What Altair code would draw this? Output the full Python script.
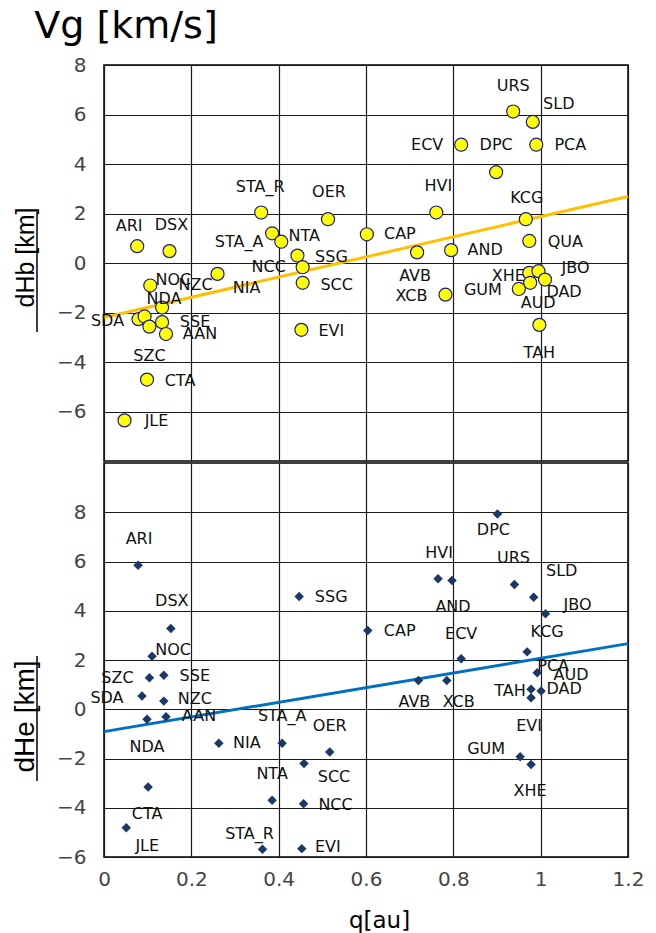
import altair as alt
import pandas as pd

# ---------------- data ----------------
# Upper panel: dHb [km] against perihelion distance q [au]
hb_station = ["URS", "SLD", "ECV", "DPC", "PCA", "HVI", "KCG", "QUA", "STA_R", "OER",
              "CAP", "STA_A", "NTA", "ARI", "DSX", "SSG", "AND", "AVB", "NCC", "NIA",
              "SCC", "NOC", "XHE", "JBO", "AUD", "DAD", "GUM", "XCB", "NDA", "SDA",
              "NZC", "SZC", "SSE", "AAN", "EVI", "TAH", "CTA", "JLE"]
hb_q = [0.937, 0.982, 0.818, 0.898, 0.990, 0.761, 0.966, 0.974, 0.360, 0.513,
        0.602, 0.385, 0.406, 0.076, 0.150, 0.443, 0.795, 0.717, 0.455, 0.260,
        0.455, 0.106, 0.974, 0.995, 0.976, 1.010, 0.950, 0.782, 0.133, 0.079,
        0.093, 0.104, 0.133, 0.142, 0.452, 0.997, 0.0985, 0.047]
hb_dh = [6.12, 5.70, 4.78, 3.67, 4.78, 2.04, 1.77, 0.89, 2.04, 1.77,
         1.16, 1.20, 0.86, 0.68, 0.48, 0.30, 0.52, 0.43, -0.17, -0.44,
         -0.80, -0.91, -0.40, -0.33, -0.80, -0.67, -1.05, -1.28, -1.80, -2.27,
         -2.16, -2.57, -2.39, -2.87, -2.70, -2.50, -4.71, -6.36]

# Lower panel: dHe [km] against perihelion distance q [au]
he_station = ["ARI", "SSG", "DSX", "CAP", "NOC", "SZC", "SSE", "SDA", "NZC", "NDA",
              "AAN", "NIA", "STA_A", "OER", "SCC", "NTA", "NCC", "CTA", "JLE", "STA_R",
              "EVI", "DPC", "HVI", "AND", "URS", "SLD", "JBO", "ECV", "KCG", "PCA",
              "AUD", "DAD", "TAH", "AVB", "XCB", "GUM", "XHE"]
he_q = [0.078, 0.447, 0.153, 0.604, 0.110, 0.104, 0.137, 0.087, 0.137, 0.0985,
        0.142, 0.263, 0.408, 0.517, 0.458, 0.385, 0.457, 0.101, 0.051, 0.363,
        0.453, 0.901, 0.765, 0.797, 0.940, 0.984, 1.011, 0.818, 0.969, 0.992,
        0.978, 1.001, 0.978, 0.720, 0.785, 0.953, 0.978]
he_dh = [5.85, 4.58, 3.28, 3.20, 2.15, 1.28, 1.38, 0.54, 0.33, -0.41,
         -0.30, -1.38, -1.38, -1.74, -2.20, -3.70, -3.84, -3.16, -4.81, -5.69,
         -5.66, 7.93, 5.30, 5.23, 5.07, 4.55, 3.88, 2.05, 2.33, 1.48,
         0.81, 0.74, 0.47, 1.17, 1.17, -1.93, -2.24]

# ---------------- label placement (pixel nudges from each marker) ----------------
hb_dx = [0, 26, -34, 0, 34, 2, 1, 36, -1, 1,
         33, -33, 23, -8, 2, 34, 34, -2, -34, 29,
         34, 23, -21, 37, 8, 19, -36, -34, 2, -31,
         51, 0, 33, 34, 30, 0, 33, 32]
hb_dy = [-26, -18, 0, -27, 0, -27, -21, 1, -26, -27,
         0, 9, -6, -20, -26, 1, 0, 24, 0, 14,
         2, -6, 3, -3, 20, 12, 1, 1, -9, 2,
         -31, 29, 0, 0, 1, 28, 1, 1]
he_dx = [1, 32, 1, 32, 21, -32, 31, -35, 31, 0,
         33, 28, 0, 0, 30, 0, 32, -1, 21, -13,
         26, -4, 1, 1, -1, 28, 32, 0, 20, 16,
         40, 23, -21, -4, 12, -34, -1]
he_dy = [-26, 1, -27, 1, -6, 0, 1, 2, -2, 28,
         -1, 0, -27, -26, 14, -26, 1, 27, 18, -15,
         -2, 16, -26, 27, -26, -26, -9, -25, -20, -7,
         -14, -2, -7, 22, 22, -8, 27]
# extra tag in the lower panel: (text, anchor station, dx, dy)
he_extra_tags = [("EVI", "XHE", -2, -38)]

# ---------------- layout ----------------
PLOT_W = 524
TOP_H = 396
BOT_H = 394
Q_DOM = [0.0, 1.2]
HB_DOM = [-8, 8]
HE_DOM = [-6, 10]
Q_TICKS = [0, 0.2, 0.4, 0.6, 0.8, 1.0, 1.2]
DH_TICKS = [-6, -4, -2, 0, 2, 4, 6, 8]

KQ = PLOT_W / (Q_DOM[1] - Q_DOM[0])


def tables(names, q, dh, dx, dy, height, ydom, extra=()):
    kh = height / (ydom[1] - ydom[0])
    pts = pd.DataFrame({"station": names, "q": q, "dh": dh})
    texts, lq, ldh = [], [], []
    for n, a, b, ox, oy in zip(names, q, dh, dx, dy):
        texts.append(n)
        lq.append(a + ox / KQ)
        ldh.append(b - oy / kh)
    for txt, anchor, ox, oy in extra:
        i = names.index(anchor)
        texts.append(txt)
        lq.append(q[i] + ox / KQ)
        ldh.append(dh[i] - oy / kh)
    labs = pd.DataFrame({"text": texts, "lq": lq, "ldh": ldh})
    return pts, labs


def panel(pts, labs, height, ydom, ytitle, ytitle_size, ytitle_y, uline,
          point_mark, trend_color, show_x):
    xscale = alt.Scale(domain=Q_DOM, nice=False, zero=False)
    yscale = alt.Scale(domain=ydom, nice=False, zero=False)
    if show_x:
        xaxis = alt.Axis(values=Q_TICKS, format="~g", title="q[au]",
                         titleFont="DejaVu Sans", titleFontSize=23,
                         titleFontWeight="normal", titleColor="#000",
                         titleX=275, titleY=70, titleBaseline="alphabetic",
                         labelPadding=12)
    else:
        xaxis = alt.Axis(values=Q_TICKS, labels=False, title=None, minExtent=0)
    yaxis = alt.Axis(values=DH_TICKS, title=ytitle, titleFont="Liberation Sans",
                     titleFontSize=ytitle_size, titleFontWeight="normal",
                     titleColor="#000", titleAngle=270, titleAlign="center",
                     titleBaseline="alphabetic", titleX=-71, titleY=ytitle_y,
                     labelPadding=18)

    def enc(xf, yf):
        return dict(x=alt.X(xf, scale=xscale, axis=xaxis),
                    y=alt.Y(yf, scale=yscale, axis=yaxis))

    trend = (alt.Chart(pts)
             .transform_regression("q", "dh", extent=Q_DOM)
             .mark_line(color=trend_color, strokeWidth=3)
             .encode(**enc("q:Q", "dh:Q")))
    marks = alt.Chart(pts).mark_point(**point_mark).encode(**enc("q:Q", "dh:Q"))
    text = (alt.Chart(labs)
            .mark_text(font="DejaVu Sans", fontSize=16, color="#111",
                       align="center", baseline="middle")
            .encode(text="text:N", **enc("lq:Q", "ldh:Q")))
    underline = (alt.Chart(pd.DataFrame({"k": [0]}))
                 .mark_rule(color="#000", strokeWidth=1.5)
                 .encode(x=alt.value(-67), y=alt.value(uline[0]), y2=alt.value(uline[1])))
    return alt.layer(trend, marks, text, underline).properties(width=PLOT_W, height=height)


hb_pts, hb_labs = tables(hb_station, hb_q, hb_dh, hb_dx, hb_dy, TOP_H, HB_DOM)
he_pts, he_labs = tables(he_station, he_q, he_dh, he_dx, he_dy, BOT_H, HE_DOM,
                         he_extra_tags)

top = panel(hb_pts, hb_labs, TOP_H, HB_DOM, "dHb [km]", 25, 192, (147, 267),
            dict(shape="circle", filled=True, fill="#FFFF00", stroke="#1A1A8C",
                 strokeWidth=1.2, size=170, opacity=1),
            "#FFC000", False)
bottom = panel(he_pts, he_labs, BOT_H, HE_DOM, "dHe [km]", 28, 253, (193, 318),
               dict(shape="diamond", filled=True, color="#1B3866", size=90, opacity=1),
               "#0070C0", True)

chart = (alt.vconcat(top, bottom, spacing=0)
         .properties(title=alt.TitleParams("Vg [km/s]", anchor="start", font="DejaVu Sans",
                                           fontSize=38, fontWeight="normal", color="#000",
                                           offset=8, dx=24),
                     padding={"left": 10, "top": 8, "right": 10, "bottom": 0},
                     background="white")
         .configure_view(stroke="#000", strokeWidth=1.5)
         .configure_axis(grid=True, gridColor="#1a1a1a", gridWidth=1.2, ticks=False,
                         domain=False, labelFont="DejaVu Sans", labelFontSize=20,
                         labelColor="#444", labelFlush=False, labelOverlap=False))

chart.save("out.html", embed_options={"renderer": "svg", "actions": False})
